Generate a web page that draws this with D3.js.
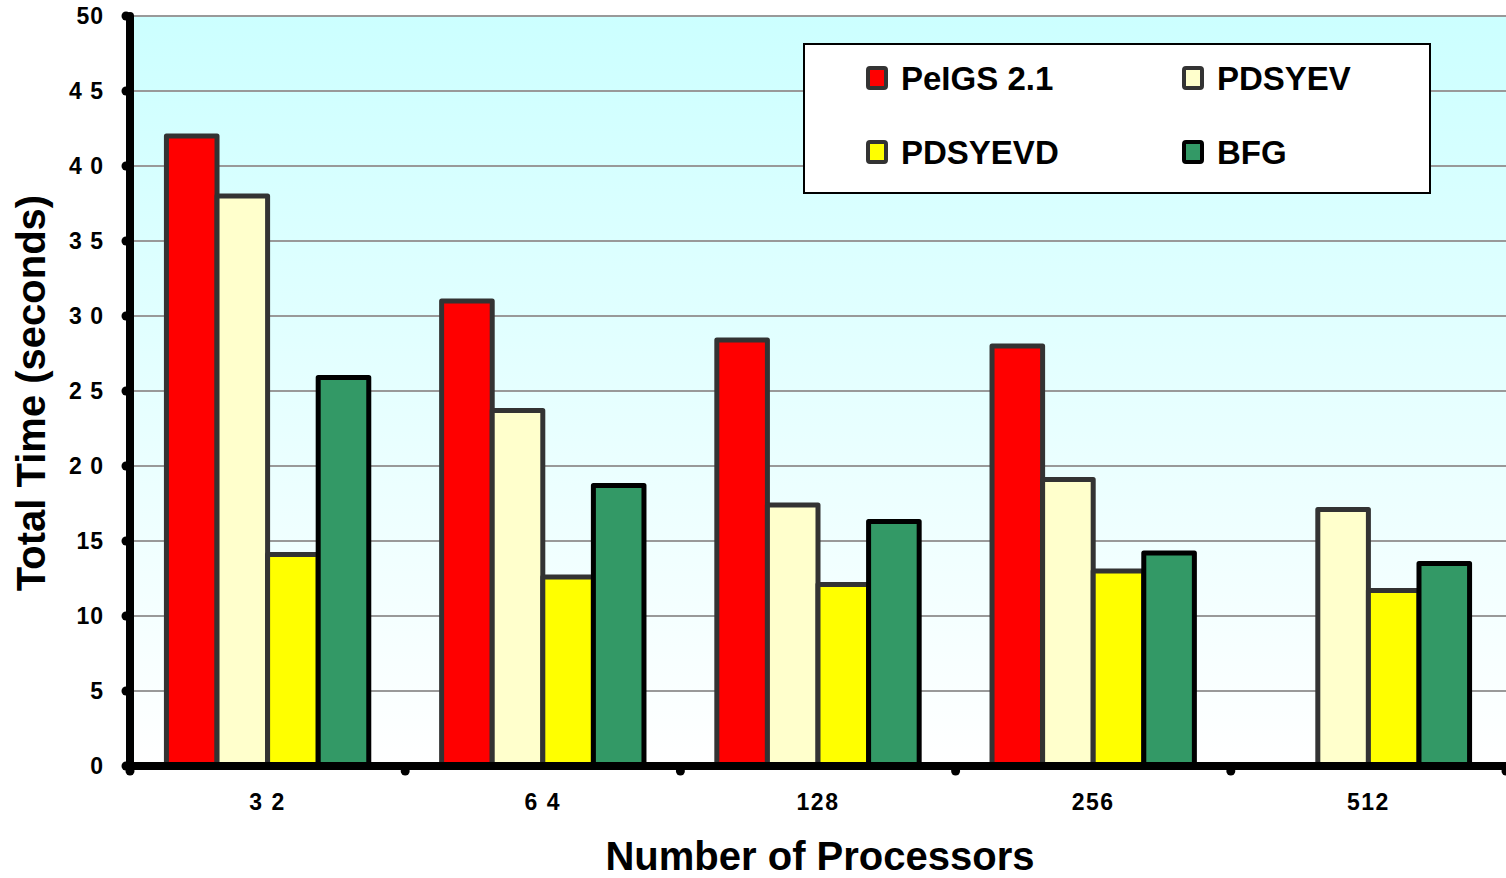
<!DOCTYPE html>
<html lang="en-US">
<head>
<meta charset="utf-8">
<style>
  html, body { margin: 0; padding: 0; background: #fff; }
  svg { display: block; font-family: "Liberation Sans", Arial, sans-serif; }
</style>
</head>
<body>
<div id="chart"></div>
<script src="https://cdnjs.cloudflare.com/ajax/libs/d3/7.8.5/d3.min.js"></script>
<script>
// data
var processors = ["32", "64", "128", "256", "512"];
var xTickLabels = ["3 2", "6 4", "128", "256", "512"];
var seriesNames = ["PeIGS 2.1", "PDSYEV", "PDSYEVD", "BFG"];
var peigs   = [42, 31, 28.4, 28, null];
var pdsyev  = [38, 23.7, 17.4, 19.1, 17.1];
var pdsyevd = [14.1, 12.6, 12.1, 13.0, 11.7];
var bfg     = [25.9, 18.7, 16.3, 14.2, 13.5];
var yTicks = [0, 5, 10, 15, 20, 25, 30, 35, 40, 45, 50];
var yTickLabels = ["0", "5", "10", "15", "2 0", "2 5", "3 0", "3 5", "4 0", "4 5", "50"];

var colors  = ["#ff0000", "#ffffcc", "#ffff00", "#339966"];
var strokes = ["#333333", "#333333", "#333333", "#000000"];
var values  = [peigs, pdsyev, pdsyevd, bfg];

var WIDTH = 1506, HEIGHT = 878;
// plot area edges (note: "top" is reserved on window, so use other names)
var plotL = 130, plotR = 1506, plotT = 16, plotB = 766;

var svg = d3.select("#chart").append("svg")
  .attr("width", WIDTH).attr("height", HEIGHT);

var x = d3.scaleBand().domain(processors).range([plotL, plotR]);
var xs = d3.scaleBand().domain(seriesNames).range([0, x.bandwidth()]).paddingOuter(0.72);
var y = d3.scaleLinear().domain([0, 50]).range([plotB, plotT]);

// plot background gradient
var grad = svg.append("defs").append("linearGradient")
  .attr("id", "bg").attr("x1", 0).attr("y1", 0).attr("x2", 0).attr("y2", 1);
grad.append("stop").attr("offset", "0%").attr("stop-color", "#ccffff");
grad.append("stop").attr("offset", "100%").attr("stop-color", "#ffffff");

svg.append("rect")
  .attr("x", plotL).attr("y", plotT)
  .attr("width", plotR - plotL).attr("height", plotB - plotT)
  .attr("fill", "url(#bg)");

// gridlines
svg.append("g").selectAll("line")
  .data(yTicks.filter(d => d > 0))
  .join("line")
  .attr("x1", plotL).attr("x2", plotR)
  .attr("y1", d => y(d)).attr("y2", d => y(d))
  .attr("stroke", "#999").attr("stroke-width", 2);

// bars
var rows = [];
processors.forEach((p, i) => {
  seriesNames.forEach((s, j) => {
    if (values[j][i] != null) rows.push({ p: p, s: s, j: j, v: values[j][i] });
  });
});

svg.append("g").selectAll("rect")
  .data(rows)
  .join("rect")
  .attr("x", d => x(d.p) + xs(d.s))
  .attr("y", d => y(d.v))
  .attr("width", xs.bandwidth())
  .attr("height", d => y(0) - y(d.v))
  .attr("fill", d => colors[d.j])
  .attr("stroke", d => strokes[d.j])
  .attr("stroke-width", 5)
  .attr("stroke-linejoin", "round");

// y axis
var yAxis = svg.append("g");
yAxis.append("line")
  .attr("x1", plotL).attr("x2", plotL)
  .attr("y1", plotT).attr("y2", plotB + 4)
  .attr("stroke", "#000").attr("stroke-width", 8).attr("stroke-linecap", "round");
yAxis.selectAll("circle")
  .data(yTicks)
  .join("circle")
  .attr("cx", plotL - 4).attr("cy", d => y(d)).attr("r", 4.5)
  .attr("fill", "#000");
yAxis.selectAll("text")
  .data(yTicks)
  .join("text")
  .attr("x", 104).attr("y", d => y(d) + 8)
  .attr("text-anchor", "end")
  .attr("font-size", 23).attr("font-weight", "bold")
  .attr("letter-spacing", 1)
  .text((d, i) => yTickLabels[i]);

// x axis
var xAxis = svg.append("g");
xAxis.append("line")
  .attr("x1", plotL - 4).attr("x2", plotR)
  .attr("y1", plotB).attr("y2", plotB)
  .attr("stroke", "#000").attr("stroke-width", 8);
xAxis.selectAll("circle")
  .data(processors.map(p => x(p)).concat([plotR]))
  .join("circle")
  .attr("cx", d => d).attr("cy", plotB + 5).attr("r", 4.5)
  .attr("fill", "#000");
xAxis.selectAll("text")
  .data(processors)
  .join("text")
  .attr("x", d => x(d) + x.bandwidth() / 2)
  .attr("y", 810)
  .attr("text-anchor", "middle")
  .attr("font-size", 23).attr("font-weight", "bold")
  .attr("letter-spacing", 1.5)
  .text((d, i) => xTickLabels[i]);

// axis titles
svg.append("text")
  .attr("x", 820).attr("y", 870)
  .attr("text-anchor", "middle")
  .attr("font-size", 40).attr("font-weight", "bold")
  .text("Number of Processors");

svg.append("text")
  .attr("transform", "translate(45,393) rotate(-90)")
  .attr("text-anchor", "middle")
  .attr("font-size", 40).attr("font-weight", "bold")
  .text("Total Time (seconds)");

// legend
var legend = svg.append("g");
legend.append("rect")
  .attr("x", 804).attr("y", 44).attr("width", 626).attr("height", 149)
  .attr("fill", "#fff").attr("stroke", "#000").attr("stroke-width", 2);

var legendPos = [[866, 66], [1182, 66], [866, 140], [1182, 140]];
var items = legend.selectAll("g.item")
  .data(seriesNames)
  .join("g")
  .attr("class", "item")
  .attr("transform", (d, i) => "translate(" + legendPos[i][0] + "," + legendPos[i][1] + ")");
items.append("rect")
  .attr("x", 2).attr("y", 2).attr("width", 18).attr("height", 20)
  .attr("rx", 2)
  .attr("fill", (d, i) => colors[i])
  .attr("stroke", (d, i) => strokes[i])
  .attr("stroke-width", 4);
items.append("text")
  .attr("x", 35).attr("y", 24)
  .attr("font-size", 33).attr("font-weight", "bold")
  .text(d => d);
</script>
</body>
</html>
